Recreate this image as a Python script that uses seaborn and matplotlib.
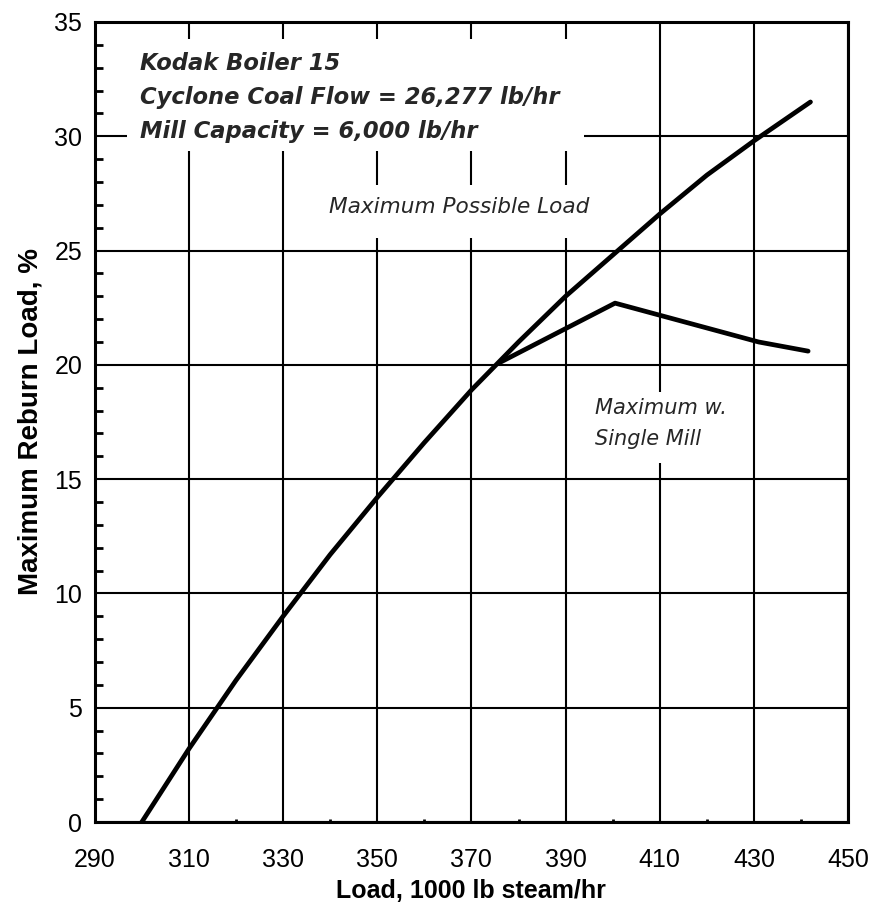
import matplotlib
matplotlib.use("Agg")
import matplotlib.pyplot as plt
import seaborn as sns
import pandas as pd
from matplotlib.patches import Rectangle
from matplotlib.ticker import MultipleLocator, FixedLocator

# Data
max_load_x = [300, 310, 320, 330, 340, 350, 360, 370, 380, 390, 400, 410, 420, 430, 442]
max_load_y = [0.0, 3.2, 6.2, 9.0, 11.7, 14.2, 16.6, 18.9, 21.0, 23.0, 24.8, 26.6, 28.3, 29.8, 31.5]

single_mill_x = [376, 400.5, 431, 441.5]
single_mill_y = [20.1, 22.7, 21.0, 20.6]

x_ticks = [290, 310, 330, 350, 370, 390, 410, 430, 450]
y_ticks = [0, 5, 10, 15, 20, 25, 30, 35]

sns.set_theme(style="white")
plt.rcParams['font.family'] = ['Liberation Sans', 'DejaVu Sans']

fig = plt.figure(figsize=(8.69, 9.15), dpi=100)
ax = fig.add_axes([0.109, 0.1016, 0.867, 0.8744])

df1 = pd.DataFrame({"x": max_load_x, "y": max_load_y})
df2 = pd.DataFrame({"x": single_mill_x, "y": single_mill_y})
sns.lineplot(data=df1, x="x", y="y", ax=ax, color="black", linewidth=3.4, zorder=5)
sns.lineplot(data=df2, x="x", y="y", ax=ax, color="black", linewidth=3.4, zorder=5)

ax.set_xlim(290, 450)
ax.set_ylim(0, 35)
ax.xaxis.set_major_locator(FixedLocator(x_ticks))
ax.yaxis.set_major_locator(FixedLocator(y_ticks))
ax.yaxis.set_minor_locator(MultipleLocator(1))
ax.xaxis.set_minor_locator(FixedLocator([320, 340, 360, 380, 400, 420, 440]))

ax.grid(True, which="major", color="black", linewidth=1.5)
ax.set_axisbelow(True)
for s in ax.spines.values():
    s.set_color("black")
    s.set_linewidth(2.2)
    s.set_zorder(6)

ax.tick_params(axis="both", which="major", length=0, labelsize=18, colors="black")
ax.tick_params(axis="y", which="major", pad=9)
ax.tick_params(axis="x", which="major", pad=19)
ax.tick_params(axis="y", which="minor", direction="in", length=6, width=2, left=True, color="black")
ax.tick_params(axis="x", which="minor", direction="in", length=2, width=2, bottom=True, color="black")

ax.set_xlabel("Load, 1000 lb steam/hr", fontsize=18, fontweight="bold", color="black", labelpad=5)
ax.set_ylabel("Maximum Reburn Load, %", fontsize=20, fontweight="bold", color="black", labelpad=8)

# white masks behind annotations (as in the original, grid is interrupted by text)
ax.add_patch(Rectangle((296.8, 29.35), 97.0, 4.9, facecolor="white", edgecolor="none", zorder=2))
ax.add_patch(Rectangle((339.0, 25.55), 58.0, 2.3, facecolor="white", edgecolor="none", zorder=2))
ax.add_patch(Rectangle((395.5, 15.7), 31.0, 3.1, facecolor="white", edgecolor="none", zorder=2))

ann_font = ['DejaVu Sans']
ax.text(299.7, 33.2, "Kodak Boiler 15", fontsize=16.3, fontstyle="italic", fontweight="bold",
        family=ann_font, va="center", ha="left", zorder=4)
ax.text(299.7, 31.7, "Cyclone Coal Flow = 26,277 lb/hr", fontsize=16.3, fontstyle="italic",
        fontweight="bold", family=ann_font, va="center", ha="left", zorder=4)
ax.text(299.7, 30.2, "Mill Capacity = 6,000 lb/hr", fontsize=16.3, fontstyle="italic",
        fontweight="bold", family=ann_font, va="center", ha="left", zorder=4)
ax.text(339.8, 26.9, "Maximum Possible Load", fontsize=15.6, fontstyle="italic",
        family=ann_font, va="center", ha="left", zorder=4)
ax.text(396.3, 18.1, "Maximum w.", fontsize=15, fontstyle="italic",
        family=ann_font, va="center", ha="left", zorder=4)
ax.text(396.3, 16.75, "Single Mill", fontsize=15, fontstyle="italic",
        family=ann_font, va="center", ha="left", zorder=4)

fig.savefig("out.png", dpi=100, facecolor="white")
